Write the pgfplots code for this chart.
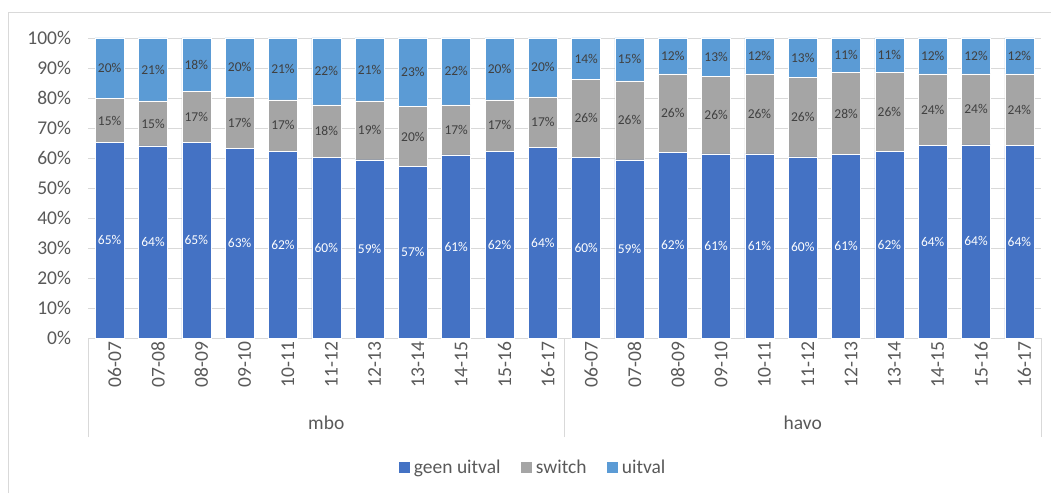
\documentclass[border=0pt]{standalone}
\usepackage{fontspec}
\setmainfont{Carlito}
\usepackage{pgfplots}
\usepackage{pgfplotstable}
\pgfplotsset{compat=1.18}
\definecolor{cgeen}{HTML}{4472C4}
\definecolor{cswitch}{HTML}{A5A5A5}
\definecolor{cuitval}{HTML}{5B9BD5}
\definecolor{ctext}{HTML}{595959}
\definecolor{cgrid}{HTML}{D9D9D9}
\definecolor{clab}{HTML}{404040}

% x, geen uitval, cumulative top of switch, and the printed labels
\pgfplotstableread{
x  g    t    gl sl ul
0  65.1 79.9 65 15 20
1  64.0 79.0 64 15 21
2  65.1 82.3 65 17 18
3  63.2 80.4 63 17 20
4  62.3 79.4 62 17 21
5  60.1 77.7 60 18 22
6  59.4 79.0 59 19 21
7  57.1 77.1 57 20 23
8  61.0 77.7 61 17 22
9  62.3 79.4 62 17 20
10 63.6 80.4 64 17 20
11 60.1 86.3 60 26 14
12 59.4 85.7 59 26 15
13 61.8 88.0 62 26 12
14 61.4 87.3 61 26 13
15 61.4 88.0 61 26 12
16 60.4 86.8 60 26 13
17 61.1 88.6 61 28 11
18 62.3 88.6 62 26 11
19 64.1 88.0 64 24 12
20 64.4 88.0 64 24 12
21 64.1 88.0 64 24 12
}\data

\newcommand{\tickfont}{\fontsize{19.5}{23}\selectfont}
\newcommand{\labfont}{\fontsize{13.5}{16}\selectfont}

\begin{document}
\begin{tikzpicture}
\useasboundingbox (0,0) rectangle (1051pt,493pt);
\draw[cgrid, line width=0.8pt] (8pt,0) -- (8pt,481pt) -- (1051pt,481pt);

\begin{axis}[
  at={(88pt,155pt)}, anchor=south west,
  scale only axis, width=953pt, height=300pt,
  ybar stacked, bar width=29pt,
  xmin=-0.5, xmax=21.5, ymin=0, ymax=100,
  xtick={0,...,21},
  xticklabels={06-07,07-08,08-09,09-10,10-11,11-12,12-13,13-14,14-15,15-16,16-17,
               06-07,07-08,08-09,09-10,10-11,11-12,12-13,13-14,14-15,15-16,16-17},
  ytick={0,10,...,100},
  yticklabels={0\%,10\%,20\%,30\%,40\%,50\%,60\%,70\%,80\%,90\%,100\%},
  ymajorgrids, grid style={cgrid, line width=0.8pt},
  axis x line*=bottom, axis y line*=left,
  y axis line style={draw=none},
  x axis line style={cgrid, line width=0.8pt, -},
  major tick length=0pt,
  tick style={draw=none},
  extra x ticks={-0.5,10.5,21.5},
  extra x tick labels={},
  extra x tick style={major tick length=99pt, tick align=outside,
     tick style={draw=cgrid, line width=0.8pt}, grid=none},
  ticklabel style={font=\tickfont, text=ctext},
  yticklabel style={xshift=-13.5pt},
  xticklabel style={rotate=90, anchor=east, yshift=-5pt},
  legend style={draw=none, fill=none, at={(0.467,-0.43)}, anchor=center,
     font=\tickfont, text=ctext, legend columns=-1,
     /tikz/every even column/.append style={column sep=18pt}},
  legend image code/.code={\fill[#1, draw=none] (0pt,-5.5pt) rectangle (11pt,5.5pt);
     \path (13pt,0pt);},
  clip=false,
]
\addplot[fill=cgeen, draw=white, line width=0.5pt] table[x=x, y=g] {\data};
\addplot[fill=cswitch, draw=white, line width=0.5pt] table[x=x, y expr=\thisrow{t}-\thisrow{g}] {\data};
\addplot[fill=cuitval, draw=white, line width=0.5pt] table[x=x, y expr=100-\thisrow{t}] {\data};
\legend{geen uitval, switch, uitval}
\node[font=\tickfont, text=ctext] at (axis cs:5,0) [yshift=-85pt] {mbo};
\node[font=\tickfont, text=ctext] at (axis cs:16,0) [yshift=-85pt] {havo};
\end{axis}

\begin{axis}[
  at={(88pt,155pt)}, anchor=south west,
  scale only axis, width=953pt, height=300pt,
  xmin=-0.5, xmax=21.5, ymin=0, ymax=100,
  hide axis, clip=false,
  point meta=explicit symbolic,
  nodes near coords={\pgfplotspointmeta\%},
]
\addplot[draw=none, mark=none, every node near coord/.style={anchor=center, font=\labfont, text=white}]
  table[x=x, y expr=\thisrow{g}/2, meta=gl] {\data};
\addplot[draw=none, mark=none, every node near coord/.style={anchor=center, font=\labfont, text=clab}]
  table[x=x, y expr=(\thisrow{g}+\thisrow{t})/2, meta=sl] {\data};
\addplot[draw=none, mark=none, every node near coord/.style={anchor=center, font=\labfont, text=clab}]
  table[x=x, y expr=(\thisrow{t}+100)/2, meta=ul] {\data};
\end{axis}
\end{tikzpicture}
\end{document}
